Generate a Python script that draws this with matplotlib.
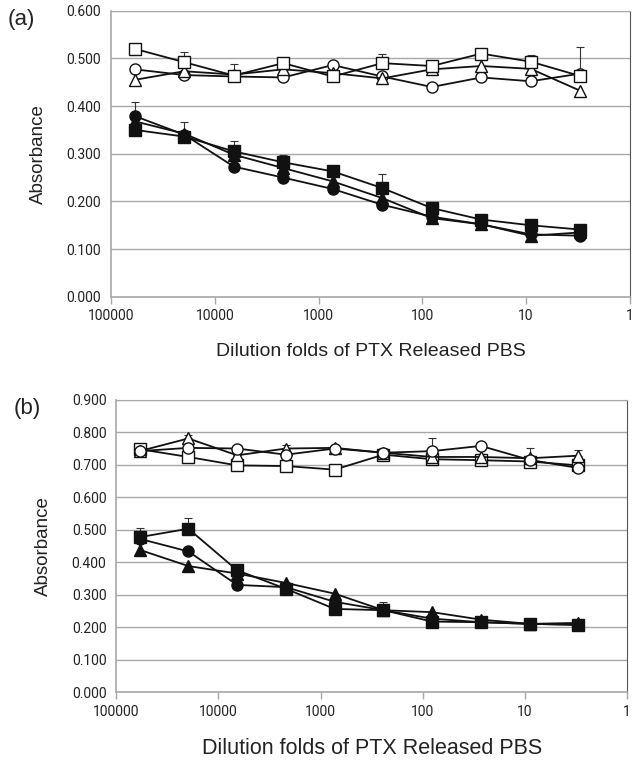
import matplotlib
matplotlib.use("Agg")
import matplotlib.pyplot as plt
from matplotlib.ticker import FixedLocator, FixedFormatter, NullLocator
import numpy as np

plt.rcParams["font.family"] = ["Liberation Sans", "DejaVu Sans"]

INK = "#111111"
GRID = "#a8a8a8"

# dilution folds (serial 3-fold)
dilution = [59049, 19683, 6561, 2187, 729, 243, 81, 27, 9, 3]

# panel (a)
a_sq_open = [0.520, 0.492, 0.464, 0.490, 0.462, 0.490, 0.484, 0.510, 0.493, 0.463]
a_ci_open = [0.477, 0.465, 0.462, 0.460, 0.486, 0.462, 0.440, 0.460, 0.452, 0.468]
a_tr_open = [0.455, 0.473, 0.466, 0.477, 0.469, 0.458, 0.477, 0.484, 0.478, 0.432]
a_sq_fill = [0.350, 0.336, 0.305, 0.282, 0.263, 0.228, 0.186, 0.162, 0.150, 0.141]
a_ci_fill = [0.379, 0.340, 0.273, 0.250, 0.226, 0.193, 0.168, 0.152, 0.131, 0.128]
a_tr_fill = [0.368, 0.342, 0.298, 0.270, 0.242, 0.207, 0.165, 0.152, 0.128, 0.135]
a_sq_open_err = [0, 0.021, 0.025, 0, 0, 0.019, 0, 0.004, 0.015, 0.061]
a_ci_fill_err = [0.029, 0, 0, 0, 0, 0, 0, 0, 0, 0]
a_sq_fill_err = [0, 0.031, 0.022, 0.016, 0, 0.030, 0, 0, 0, 0]

# panel (b)
b_sq_open = [0.748, 0.724, 0.698, 0.696, 0.685, 0.731, 0.717, 0.714, 0.710, 0.698]
b_ci_open = [0.742, 0.752, 0.750, 0.731, 0.750, 0.737, 0.742, 0.758, 0.715, 0.690]
b_tr_open = [0.742, 0.781, 0.729, 0.750, 0.752, 0.737, 0.724, 0.724, 0.720, 0.728]
b_sq_fill = [0.477, 0.503, 0.375, 0.318, 0.256, 0.252, 0.217, 0.215, 0.210, 0.207]
b_ci_fill = [0.472, 0.433, 0.330, 0.323, 0.278, 0.252, 0.226, 0.215, 0.210, 0.207]
b_tr_fill = [0.438, 0.388, 0.365, 0.336, 0.303, 0.252, 0.246, 0.223, 0.210, 0.213]
b_ci_open_err = [0, 0, 0, 0, 0, 0.015, 0.041, 0, 0.036, 0]
b_tr_open_err = [0, 0.012, 0, 0.012, 0.008, 0, 0, 0, 0, 0.018]
b_sq_fill_err = [0.028, 0.033, 0, 0, 0, 0.026, 0, 0, 0, 0]

xticks = [100000, 10000, 1000, 100, 10, 1]
xticklabels = ["100000", "10000", "1000", "100", "10", "1"]

fig = plt.figure(figsize=(6.42, 7.63), dpi=100)
ax_a = fig.add_axes([0.173, 0.611, 0.808, 0.375])
ax_b = fig.add_axes([0.181, 0.093, 0.796, 0.383])


def draw(ax, series, errs, ymax, label, xl_size):
    for ys, mk, filled in series:
        ax.plot(dilution, ys, color=INK, lw=1.3, marker=mk, ms=8 if mk != "^" else 8.5,
                mfc=INK if filled else "white", mec=INK, mew=1.0, zorder=3)
    for ys, e in errs:
        ax.errorbar(dilution, ys, yerr=[np.zeros(len(e)), e], fmt="none",
                    ecolor="#333333", elinewidth=0.8, capsize=3, capthick=0.8, zorder=2)
    ax.set_xscale("log")
    ax.set_xlim(100000, 1)
    ax.set_ylim(0, ymax)
    yt = np.arange(0, ymax + 1e-9, 0.1)
    ax.set_yticks(yt)
    ax.set_yticklabels([f"{v:.3f}" for v in yt])
    ax.xaxis.set_major_locator(FixedLocator(xticks))
    ax.xaxis.set_major_formatter(FixedFormatter(xticklabels))
    ax.xaxis.set_minor_locator(NullLocator())
    ax.grid(axis="y", color=GRID, lw=1.0)
    ax.set_axisbelow(True)
    ax.tick_params(axis="both", labelsize=10, colors="#222222", length=5, width=1,
                   direction="out", pad=4)
    ax.tick_params(axis="x", color=GRID)
    ax.tick_params(axis="y", length=0, pad=7)
    for s in ("left", "bottom", "top"):
        ax.spines[s].set_color(GRID)
    ax.spines["right"].set_color("#555555")
    ax.spines["left"].set_linewidth(1.2)
    ax.spines["bottom"].set_linewidth(1.2)
    ax.set_ylabel("Absorbance", fontsize=13.5, color="#222222", labelpad=14)
    ax.set_xlabel("Dilution folds of PTX Released PBS", fontsize=xl_size,
                  color="#222222", labelpad=14)
    for t in ax.get_xticklabels() + ax.get_yticklabels():
        t.set_family("Roboto")
    ax.text(-0.2, 0.97, label, transform=ax.transAxes, fontsize=16, color="#222222",
            ha="left", va="center")


draw(ax_a,
     [(a_ci_open, "o", False), (a_tr_open, "^", False), (a_sq_open, "s", False),
      (a_tr_fill, "^", True), (a_ci_fill, "o", True), (a_sq_fill, "s", True)],
     [(a_sq_open, a_sq_open_err), (a_ci_fill, a_ci_fill_err), (a_sq_fill, a_sq_fill_err)],
     0.6, "(a)", 14)

draw(ax_b,
     [(b_sq_open, "s", False), (b_tr_open, "^", False), (b_ci_open, "o", False),
      (b_tr_fill, "^", True), (b_ci_fill, "o", True), (b_sq_fill, "s", True)],
     [(b_ci_open, b_ci_open_err), (b_tr_open, b_tr_open_err), (b_sq_fill, b_sq_fill_err)],
     0.9, "(b)", 15.5)

fig.savefig("out.png", dpi=100)
